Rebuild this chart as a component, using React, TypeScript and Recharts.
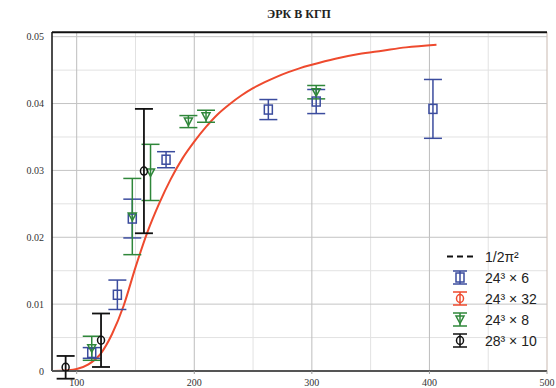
import { ComposedChart, Scatter, Line, XAxis, YAxis, ErrorBar, ReferenceLine, Legend } from "recharts";

const xTicks = [100, 200, 300, 400, 500];
const xMinor = [150, 250, 350, 450];
const yTicks = [0, 0.01, 0.02, 0.03, 0.04, 0.05];
const yMinor = [0.005, 0.015, 0.025, 0.035, 0.045];
const limitValue = 1 / (2 * Math.PI * Math.PI);

// 24^3 x 6
const blueX = [112.8, 134.6, 147.3, 176, 263, 303.7, 403];
const blueY = [0.0027, 0.0114, 0.0228, 0.0316, 0.0391, 0.0403, 0.0392];
const blueErr = [0.0008, 0.0022, 0.0029, 0.0012, 0.0015, 0.0018, 0.0044];

// 24^3 x 8
const greenX = [112.8, 147.3, 162.8, 195, 210, 303.7];
const greenY = [0.0034, 0.0231, 0.0297, 0.0373, 0.0381, 0.0417];
const greenErr = [0.0018, 0.0057, 0.0042, 0.0009, 0.0009, 0.001];

// 28^3 x 10
const blackX = [90.6, 120.7, 157.2];
const blackY = [0.00055, 0.0046, 0.0299];
const blackErr = [0.0017, 0.004, 0.0093];

// 24^3 x 32 (curve)
const redX = [80, 92, 100, 110, 120, 130, 140, 150, 160, 170, 180, 190, 200, 210, 220, 230, 240, 250, 260, 270, 280, 290, 300, 320, 340, 360, 380, 406];
const redY = [0, 0.0001, 0.0003, 0.001, 0.0025, 0.0055, 0.0098, 0.0155, 0.0207, 0.025, 0.0287, 0.0318, 0.0343, 0.0365, 0.0384, 0.0399, 0.0412, 0.0423, 0.0432, 0.044, 0.0447, 0.0453, 0.0458, 0.0467, 0.0474, 0.0479, 0.0484, 0.0488];

const legendLabels = ["1/2π²", "24³ × 6", "24³ × 32", "24³ × 8", "28³ × 10"];

const BLUE = "#3b4c9e";
const GREEN = "#2f873a";
const RED = "#ee4a2e";
const BLACK = "#111";
const legendColors = [BLACK, BLUE, RED, GREEN, BLACK];

const toPoints = (xs: number[], ys: number[], errs?: number[]) =>
  xs.map((x, i) => ({ x, y: ys[i], err: errs ? errs[i] : 0 }));

const blueData = toPoints(blueX, blueY, blueErr);
const greenData = toPoints(greenX, greenY, greenErr);
const blackData = toPoints(blackX, blackY, blackErr);
const redData = toPoints(redX, redY);

function marker(kind: string, cx: number, cy: number, color: string) {
  if (kind === "square")
    return <rect x={cx - 4} y={cy - 4.5} width={8} height={9} fill="none" stroke={color} strokeWidth={1.5} />;
  if (kind === "triangle")
    return <polygon points={`${cx - 4},${cy - 3.5} ${cx + 4},${cy - 3.5} ${cx},${cy + 4}`} fill="none" stroke={color} strokeWidth={1.5} />;
  return <ellipse cx={cx} cy={cy} rx={3.5} ry={4} fill="none" stroke={color} strokeWidth={1.5} />;
}

const legendKinds = ["dash", "square", "circle", "triangle", "circle"];

function LegendBox() {
  return (
    <div style={{ fontFamily: "'Liberation Sans', Arial, sans-serif", fontSize: 14, color: "#222" }}>
      {legendLabels.map((label, i) => (
        <div key={label} style={{ display: "flex", alignItems: "center", height: 21 }}>
          <svg width={40} height={21}>
            {legendKinds[i] === "dash" ? (
              <line x1={7} x2={33} y1={10.5} y2={10.5} stroke={BLACK} strokeWidth={2.2} strokeDasharray="6 4" />
            ) : (
              <g stroke={legendColors[i]} strokeWidth={1.5}>
                <line x1={20} x2={20} y1={4} y2={17} />
                <line x1={13} x2={27} y1={4} y2={4} />
                <line x1={13} x2={27} y1={17} y2={17} />
                {marker(legendKinds[i], 20, 10.5, legendColors[i])}
              </g>
            )}
          </svg>
          <span style={{ marginLeft: 5 }}>{label}</span>
        </div>
      ))}
    </div>
  );
}

const tickStyle = { fontFamily: "'Liberation Serif', 'Times New Roman', serif", fontSize: 10, fill: "#333" };

export default function App() {
  return (
    <div style={{ position: "absolute", left: 0, top: 0, width: 556, height: 388, background: "#fff" }}>
      <div
        style={{
          position: "absolute",
          left: 52,
          width: 494,
          top: 6,
          textAlign: "center",
          fontFamily: "'Liberation Serif', 'Times New Roman', serif",
          fontWeight: "bold",
          fontSize: 12,
          lineHeight: "16px",
          color: "#222",
        }}
      >
        ЭРК В КГП
      </div>
      <ComposedChart width={556} height={388} margin={{ top: 32, right: 9, bottom: 0, left: 0 }}>
        <XAxis
          type="number"
          dataKey="x"
          domain={[79, 500]}
          ticks={xTicks}
          allowDataOverflow
          height={17}
          tick={tickStyle}
          tickSize={3}
          tickMargin={5}
          tickLine={{ stroke: "#999" }}
          axisLine={false}
        />
        <YAxis
          type="number"
          dataKey="y"
          domain={[0, 0.0507]}
          ticks={yTicks}
          allowDataOverflow
          width={52}
          tick={tickStyle}
          tickSize={0}
          tickMargin={8}
          tickLine={false}
          axisLine={false}
          tickFormatter={(v: number) => (v === 0 ? "0" : v.toFixed(2))}
        />
        {xMinor.map((v) => (
          <ReferenceLine key={"xm" + v} x={v} stroke="#e2e2e2" strokeWidth={1} />
        ))}
        {yMinor.map((v) => (
          <ReferenceLine key={"ym" + v} y={v} stroke="#e2e2e2" strokeWidth={1} />
        ))}
        {xTicks.map((v) => (
          <ReferenceLine key={"xt" + v} x={v} stroke={v === 500 ? "#c9b9b0" : "#bdbdbd"} strokeWidth={1} />
        ))}
        {yTicks.slice(1).map((v) => (
          <ReferenceLine key={"yt" + v} y={v} stroke="#c4c4c4" strokeWidth={1} />
        ))}
        <ReferenceLine x={79} stroke={BLACK} strokeWidth={1.5} />
        <Line
          data={redData}
          dataKey="y"
          type="monotone"
          stroke={RED}
          strokeWidth={2}
          dot={false}
          isAnimationActive={false}
        />
        <ReferenceLine y={0} stroke="#555" strokeWidth={2} />
        <Scatter data={blueData} isAnimationActive={false} shape={(p: any) => marker("square", p.cx, p.cy, BLUE)}>
          <ErrorBar dataKey="err" direction="y" width={9} stroke={BLUE} strokeWidth={1.5} />
        </Scatter>
        <Scatter data={greenData} isAnimationActive={false} shape={(p: any) => marker("triangle", p.cx, p.cy, GREEN)}>
          <ErrorBar dataKey="err" direction="y" width={9} stroke={GREEN} strokeWidth={1.5} />
        </Scatter>
        <Scatter data={blackData} isAnimationActive={false} shape={(p: any) => marker("circle", p.cx, p.cy, BLACK)}>
          <ErrorBar dataKey="err" direction="y" width={9} stroke={BLACK} strokeWidth={1.8} />
        </Scatter>
        <ReferenceLine y={limitValue} stroke={BLACK} strokeWidth={2} ifOverflow="visible" />
        <Legend
          layout="vertical"
          align="center"
          verticalAlign="middle"
          wrapperStyle={{ position: "absolute", left: 440, top: 246, width: 112 }}
          content={() => <LegendBox />}
        />
      </ComposedChart>
    </div>
  );
}
